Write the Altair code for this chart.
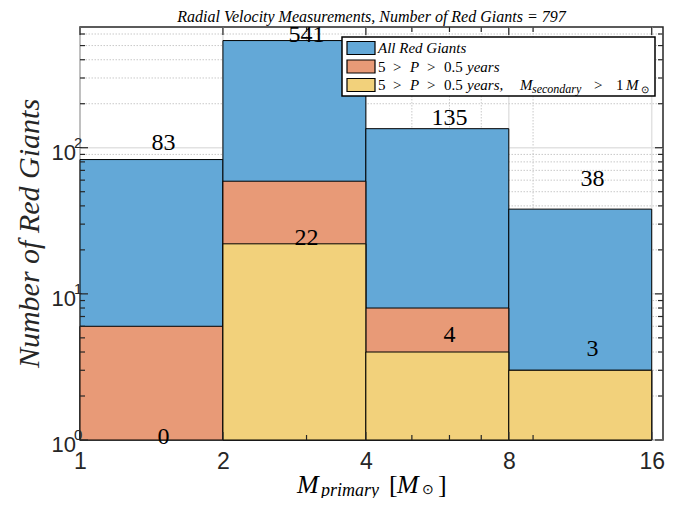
import altair as alt
import pandas as pd

# ---------------- data ----------------
bin_lo = [1, 2, 4, 8]
bin_hi = [2, 4, 8, 16]
all_counts = [83, 541, 135, 38]
short_p_counts = [6, 59, 8, 3]
massive_comp_counts = [0, 22, 4, 3]

label_x = [1.5, 3, 6, 12]
top_labels = ["83", "541", "135", "38"]
top_label_y = [107, 590, 159, 61]
bottom_labels = ["0", "22", "4", "3"]
bottom_label_y = [1.05, 24, 5.2, 4.2]

x_major = [1, 2, 4, 8, 16]
x_minor = [3, 5, 6, 7, 9]
y_major = [1, 10, 100]
y_exponents = ["0", "1", "2"]
y_minor = [2, 3, 4, 5, 6, 7, 8, 9, 20, 30, 40, 50, 60, 70, 80, 90, 200, 300, 400, 500, 600]

series_names = ["All Red Giants", "5 > P > 0.5 years", "5 > P > 0.5 years, M_secondary > 1 M_sun"]
series_colors = ["#63A8D7", "#E89A77", "#F2D17B"]

title_text = "Radial Velocity Measurements,  Number of Red Giants  =  797"
y_title = "Number of Red Giants"

# ---------------- layout ----------------
W, H = 583, 413
INK = "#262626"
SERIF = "Liberation Serif"
SANS = "Liberation Sans"

xs = alt.Scale(type="log", base=2, domain=[1, 16.9], nice=False)
ys = alt.Scale(type="log", domain=[1, 670], nice=False)

x_axis = alt.Axis(values=x_major, grid=False, ticks=False, domain=False, title=None,
                  labelFontSize=23, labelFont=SANS, labelColor=INK, labelPadding=10,
                  format="d", labelFlush=False)
y_axis = alt.Axis(values=y_major, grid=False, ticks=False, domain=False, title=None, labels=False)


def X(field):
    return alt.X(field, type="quantitative", scale=xs, axis=x_axis)


def Y(field):
    return alt.Y(field, type="quantitative", scale=ys, axis=y_axis)


# gridlines
xg_major = alt.Chart(pd.DataFrame({"v": x_major})).mark_rule(color="#e2e2e2", strokeWidth=1.5).encode(x=X("v"))
xg_minor = alt.Chart(pd.DataFrame({"v": x_minor})).mark_rule(color="#c9c9c9", strokeWidth=1, strokeDash=[1.5, 1.5]).encode(x=X("v"))
yg_major = alt.Chart(pd.DataFrame({"v": y_major})).mark_rule(color="#e2e2e2", strokeWidth=1.5).encode(y=Y("v"))
yg_minor = alt.Chart(pd.DataFrame({"v": y_minor})).mark_rule(color="#c9c9c9", strokeWidth=1, strokeDash=[1.5, 1.5]).encode(y=Y("v"))


def bars(counts, color):
    df = pd.DataFrame({"lo": bin_lo, "hi": bin_hi, "n": counts})
    df = df[df["n"] > 0]
    return alt.Chart(df).mark_rect(color=color, stroke="black", strokeWidth=1).encode(
        x=X("lo"), x2="hi", y=Y("n"), y2=alt.datum(1)
    )


b_all = bars(all_counts, series_colors[0])
b_short = bars(short_p_counts, series_colors[1])
b_mass = bars(massive_comp_counts, series_colors[2])

lab_df = pd.DataFrame({"x": label_x * 2, "y": top_label_y + bottom_label_y, "t": top_labels + bottom_labels})
labels = alt.Chart(lab_df).mark_text(font=SERIF, fontSize=24, color="black", baseline="middle").encode(
    x=X("x"), y=Y("y"), text="t:N"
)

# y tick labels: "10" with a superscript exponent
ylab_df = pd.DataFrame({"v": y_major, "e": y_exponents, "b": ["10"] * len(y_major)})
ylab_base = alt.Chart(ylab_df).mark_text(font=SANS, fontSize=22, color=INK, align="right", baseline="middle", dy=5).encode(
    y=Y("v"), x=alt.value(-4), text="b:N")
ylab_exp = alt.Chart(ylab_df).mark_text(font=SANS, fontSize=15, color=INK, align="left", baseline="middle", dy=-5).encode(
    y=Y("v"), x=alt.value(-6), text="e:N")


# inward ticks on all four sides
def yticks(vals, length, right):
    x0 = W - length if right else 0
    return alt.Chart(pd.DataFrame({"v": vals})).mark_rule(color=INK, strokeWidth=1.2).encode(
        y=Y("v"), x=alt.value(x0), x2=alt.value(x0 + length))


def xticks(vals, length, top):
    y0 = 0 if top else H - length
    return alt.Chart(pd.DataFrame({"v": vals})).mark_rule(color=INK, strokeWidth=1.2).encode(
        x=X("v"), y=alt.value(y0), y2=alt.value(y0 + length))


ticks = [yticks(y_major, 8, False), yticks(y_minor, 5, False), yticks(y_major, 8, True), yticks(y_minor, 5, True),
         xticks(x_major, 8, False), xticks(x_minor, 5, False), xticks(x_major, 8, True), xticks(x_minor, 5, True)]

# ---------------- legend (drawn manually) ----------------
legend_box = alt.Chart(pd.DataFrame({"a": [0]})).mark_rect(fill="white", stroke="black", strokeWidth=1.5).encode(
    x=alt.value(262), x2=alt.value(575), y=alt.value(10), y2=alt.value(69))
sw_centers = [21, 39.5, 58]
sw_df = pd.DataFrame({"s": series_names, "y0": [c - 6.5 for c in sw_centers], "y1": [c + 6.5 for c in sw_centers]})
swatches = alt.Chart(sw_df).mark_rect(stroke="black", strokeWidth=1.2).encode(
    x=alt.value(267), x2=alt.value(295),
    y=alt.Y("y0:Q", scale=None), y2="y1:Q",
    color=alt.Color("s:N", scale=alt.Scale(domain=series_names, range=series_colors), legend=None),
)


def seg(text, x, y, size=15, italic=True):
    return {"t": text, "x": x, "y": y, "size": size, "style": "italic" if italic else "normal"}


segs = [seg("All Red Giants", 298, 26)]
for yb, full in [(44.5, False), (63, True)]:
    segs += [seg("5", 298, yb, italic=False), seg(">", 313, yb, italic=False), seg("P", 330, yb),
             seg(">", 347, yb, italic=False), seg("0.5", 364, yb, italic=False)]
    if full:
        segs += [seg("years,", 387, yb), seg("M", 440, yb), seg("secondary", 452, yb + 3, size=12),
                 seg(">", 514, yb, italic=False), seg("1", 536, yb, italic=False), seg("M", 546, yb),
                 seg("\u2299", 561, yb + 3, size=10, italic=False)]
    else:
        segs += [seg("years", 387, yb)]

# x-axis title segments
segs += [seg("M", 217, 466, size=26), seg("primary", 241, 469, size=18), seg("[", 309, 466, size=26, italic=False),
         seg("M", 317, 466, size=26), seg("\u2299", 342, 467, size=14, italic=False),
         seg("]", 358, 466, size=26, italic=False)]

seg_df = pd.DataFrame(segs)
seg_layers = []
for (size, style), g in seg_df.groupby(["size", "style"]):
    seg_layers.append(
        alt.Chart(g).mark_text(font=SERIF, fontSize=float(size), fontStyle=style, align="left",
                               baseline="alphabetic", color="black").encode(
            x=alt.X("x:Q", scale=None), y=alt.Y("y:Q", scale=None), text="t:N"))

title_mark = alt.Chart(pd.DataFrame({"t": [title_text]})).mark_text(
    font=SERIF, fontSize=16, fontStyle="italic", color="black", align="center", baseline="middle").encode(
    x=alt.value(W / 2), y=alt.value(-10), text="t:N")

ytitle_mark = alt.Chart(pd.DataFrame({"t": [y_title]})).mark_text(
    font=SERIF, fontSize=30, fontStyle="italic", color="#262626", align="center", baseline="middle", angle=270).encode(
    x=alt.value(-50), y=alt.value(H / 2), text="t:N")

chart = alt.layer(
    xg_major, xg_minor, yg_major, yg_minor,
    b_all, b_short, b_mass, labels,
    *ticks, ylab_base, ylab_exp,
    legend_box, swatches, *seg_layers,
    title_mark, ytitle_mark,
).properties(
    width=W, height=H,
    autosize=alt.AutoSizeParams(type="none"),
    padding={"left": 72, "top": 19, "right": 8, "bottom": 58},
).configure_view(stroke=INK, strokeWidth=1.5)

chart.save("out.html", embed_options={"renderer": "svg", "actions": False})
